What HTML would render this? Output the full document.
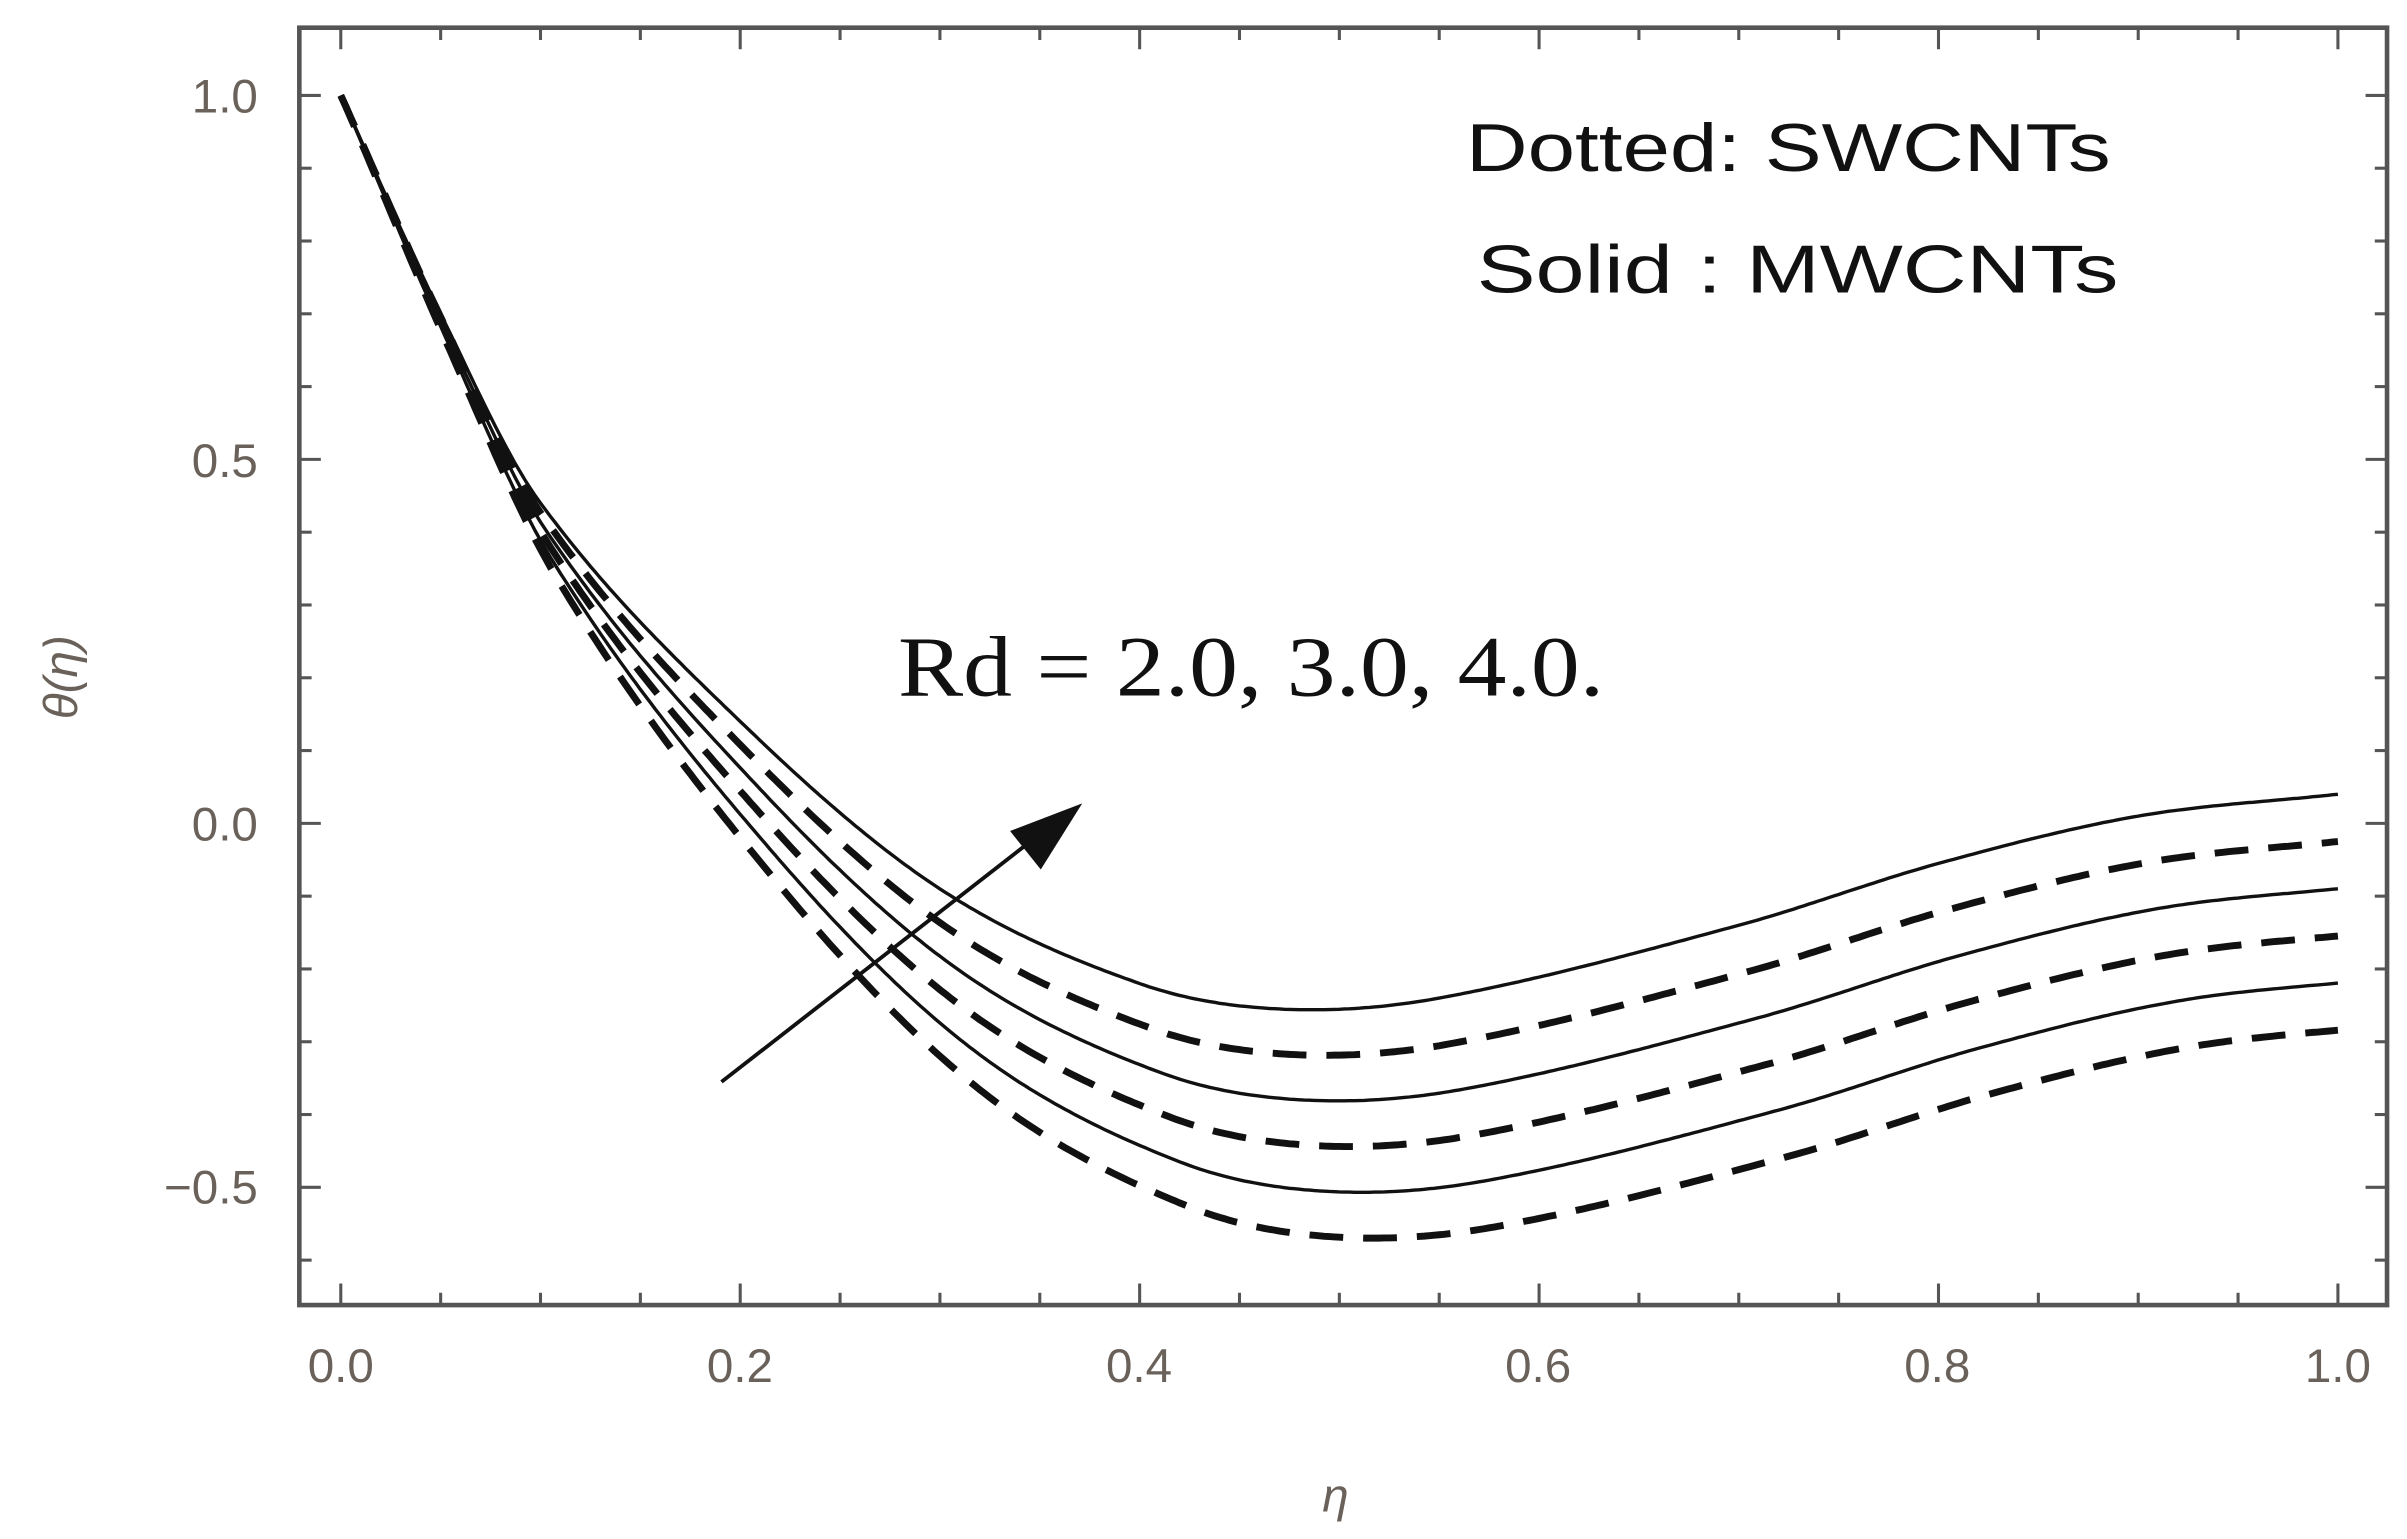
<!DOCTYPE html>
<html><head><meta charset="utf-8"><style>
html,body{margin:0;padding:0;background:#fff;}
svg{display:block;}
</style></head><body>
<svg id="s" width="2407" height="1539" viewBox="0 0 1568 1000" preserveAspectRatio="none" xmlns="http://www.w3.org/2000/svg">
<rect x="0" y="0" width="1568" height="1000" fill="#fff"/>
<g id="ticks" stroke="#555" stroke-width="2"></g>
<rect x="195" y="18" width="1360" height="830" fill="none" stroke="#555" stroke-width="3"/>
<g id="curves" fill="none" stroke="#111"></g>
<g font-family="Liberation Sans, sans-serif" font-size="31" fill="#6a625a">
<text x="222" y="898" text-anchor="middle">0.0</text>
<text x="482" y="898" text-anchor="middle">0.2</text>
<text x="742" y="898" text-anchor="middle">0.4</text>
<text x="1002" y="898" text-anchor="middle">0.6</text>
<text x="1262" y="898" text-anchor="middle">0.8</text>
<text x="1523" y="898" text-anchor="middle">1.0</text>
<text x="168" y="73" text-anchor="end">1.0</text>
<text x="168" y="310" text-anchor="end">0.5</text>
<text x="168" y="546" text-anchor="end">0.0</text>
<text x="168" y="782" text-anchor="end">−0.5</text>
<text x="870" y="982" text-anchor="middle" font-style="italic">η</text>
<text transform="translate(50,440) rotate(-90)" text-anchor="middle" font-style="italic">θ(η)</text>
</g>
<g font-family="Liberation Sans, sans-serif" font-size="44" fill="#111">
<text x="955" y="111" textLength="420" lengthAdjust="spacingAndGlyphs">Dotted:  SWCNTs</text>
<text x="962" y="190" textLength="418" lengthAdjust="spacingAndGlyphs">Solid  :  MWCNTs</text>
</g>
<text x="585" y="452" font-family="Liberation Serif, serif" font-size="56" fill="#111" textLength="460" lengthAdjust="spacingAndGlyphs">Rd = 2.0, 3.0, 4.0.</text>
<line x1="470" y1="703" x2="680" y2="540" stroke="#111" stroke-width="2.5"/>
<polygon points="705,522 658,540 678,565" fill="#111"/>
</svg>
<script>
const X=e=>222+1301*e, Y=v=>535-473*v;
let t=document.getElementById('ticks'),h='';
for(let i=0;i<=20;i++){let e=i*0.05,x=X(e),L=i%4==0?14:8;h+=`<line x1="${x}" y1="848" x2="${x}" y2="${848-L}"/><line x1="${x}" y1="18" x2="${x}" y2="${18+L}"/>`;}
for(let i=-6;i<=11;i++){let v=i*0.1,y=Y(v);if(y<18||y>848)continue;let L=(i%5==0)?14:8;h+=`<line x1="195" y1="${y}" x2="${195+L}" y2="${y}"/><line x1="1555" y1="${y}" x2="${1555-L}" y2="${y}"/>`;}
t.innerHTML=h;
const ex=[0,0.05,0.1,0.2,0.3,0.4,0.47,0.55,0.7,0.8,0.9,1.0];
const th=[1,0.70,0.44,0.14,-0.09,-0.22,-0.255,-0.24,-0.14,-0.055,0.01,0.04];
function base(e){if(e<0)e=0;let i=0;while(i<ex.length-2&&e>ex[i+1])i++;
 let x0=ex[i],x1=ex[i+1],u=(e-x0)/(x1-x0);
 let m=k=>{if(k<=0)return (th[1]-th[0])/(ex[1]-ex[0]);if(k>=ex.length-1)return (th[k]-th[k-1])/(ex[k]-ex[k-1]);return (th[k+1]-th[k-1])/(ex[k+1]-ex[k-1]);};
 let d=x1-x0,h00=2*u*u*u-3*u*u+1,h10=u*u*u-2*u*u+u,h01=-2*u*u*u+3*u*u,h11=u*u*u-u*u;
 return h00*th[i]+h10*d*m(i)+h01*th[i+1]+h11*d*m(i+1);}
let c='';
for(let k=0;k<6;k++){let p='';
 for(let j=0;j<=400;j++){let e=j/400,s=Math.tanh(Math.pow(e/0.25,1.3));
  let v=base(e-0.005*k*s)-0.0635*k*s;
  p+=(j?'L':'M')+X(e).toFixed(1)+','+Y(v).toFixed(1);}
 if(k%2==0)c+=`<path d="${p}" stroke-width="2.2"/>`;
 else c+=`<path d="${p}" stroke-width="4.5" stroke-dasharray="22 13"/>`;}
document.getElementById('curves').innerHTML=c;
</script>
</body></html>
